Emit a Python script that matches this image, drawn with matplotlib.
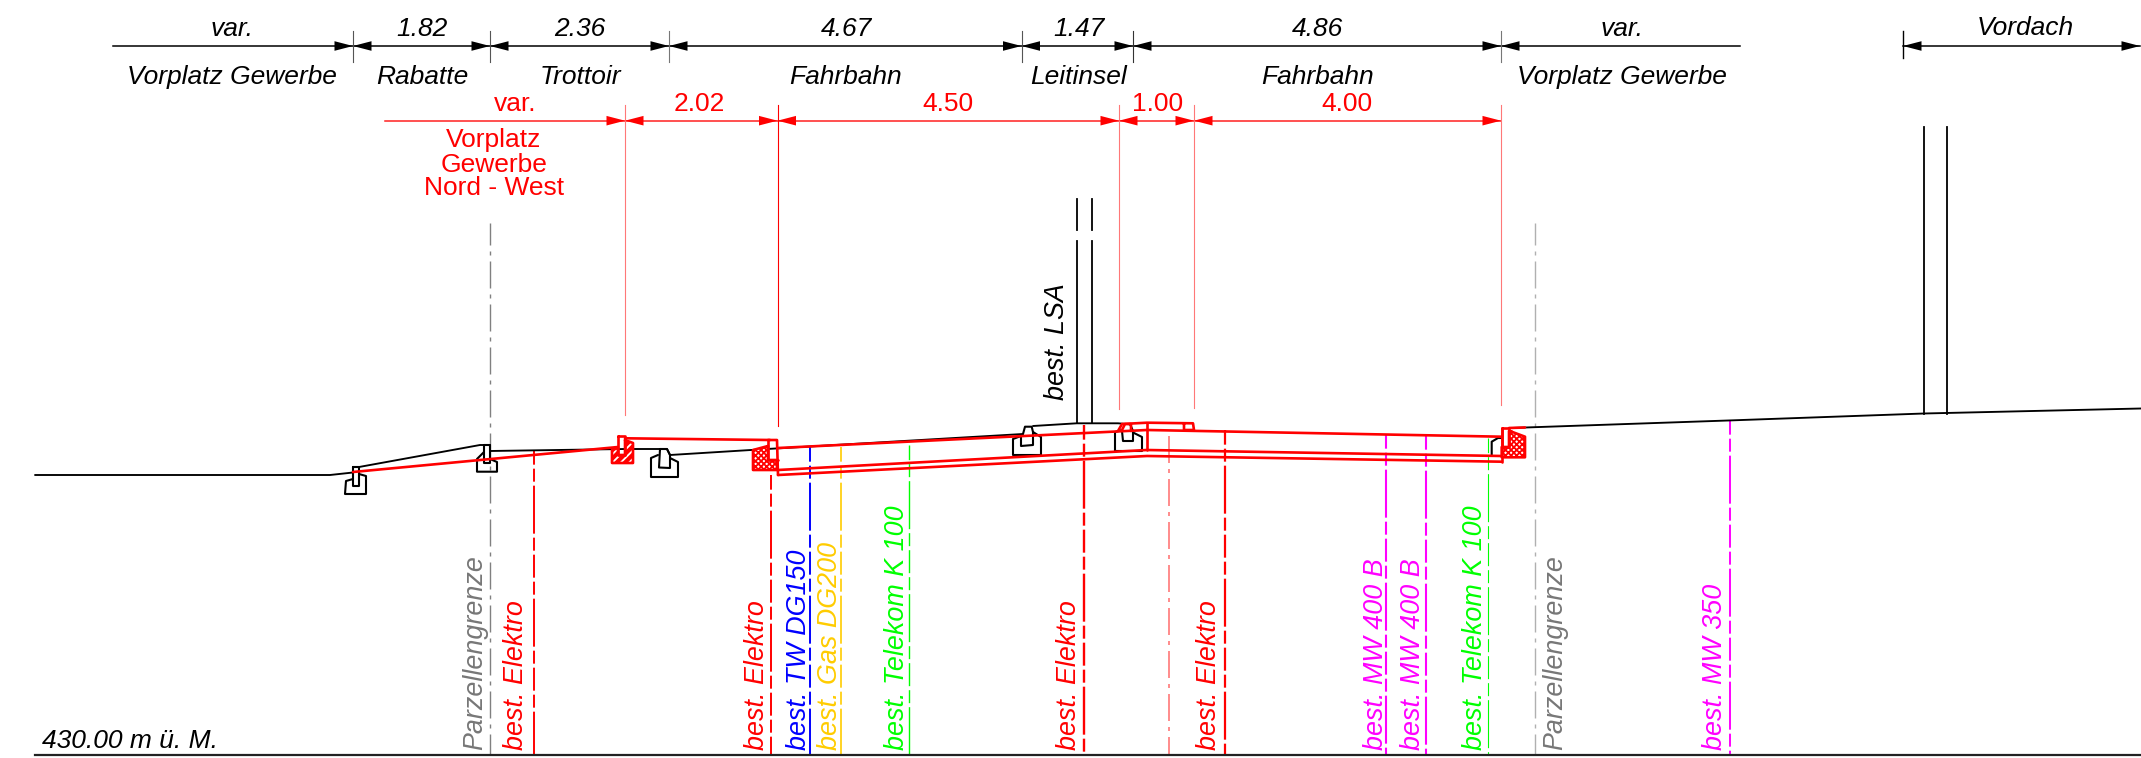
import matplotlib
matplotlib.use("Agg")
import matplotlib.pyplot as plt
from matplotlib.patches import Polygon

plt.rcParams['font.family'] = ['Liberation Sans', 'DejaVu Sans']
plt.rcParams['lines.scale_dashes'] = False
plt.rcParams['hatch.linewidth'] = 1.3

W, H = 2141, 758
RED, LRED, GREY, BLUE, GOLD, GREEN, MAG = '#ff0000', '#ff7878', '#808080', '#0000ff', '#ffcc00', '#00ff00', '#ff00ff'

# dimension chains
top_ticks = [353, 490, 669, 1021.5, 1133, 1501]
top_tick_cols = ['#555555', '#555555', '#777777', '#555555', '#333333', '#777777']
top_line = [113, 1740]
top_values = ['var.', '1.82', '2.36', '4.67', '1.47', '4.86', 'var.']
top_labels = ['Vorplatz Gewerbe', 'Rabatte', 'Trottoir', 'Fahrbahn', 'Leitinsel', 'Fahrbahn', 'Vorplatz Gewerbe']
top_x = [232, 422, 580, 846, 1079, 1317.5, 1622]
vordach_span = [1903, 2140]
vordach_x = 2025

red_ticks = [625, 777.5, 1119, 1194, 1501]
red_tick_ends = [415, 426, 409, 408, 405]
red_tick_cols = [LRED, RED, LRED, LRED, LRED]
red_line = [385, 1501]
red_values = ['var.', '2.02', '4.50', '1.00', '4.00']
red_x = [515, 699, 948, 1158, 1347]
red_note = ['Vorplatz', 'Gewerbe', 'Nord - West']
red_note_y = [140.5, 164.5, 188]

# terrain (black)
ground_a = [(35, 475), (330, 475), (353, 472.5)]
ground_b = [(359, 467), (480, 445), (490, 445)]
ground_c = [(490, 451), (625, 449), (660, 449), (667, 449), (670, 455), (767, 449)]
ground_d = [(767, 449), (1023, 434)]
ground_e = [(1033, 426), (1076.7, 423.3), (1118, 423.3), (1130, 424.3)]
ground_f = [(1511, 428), (1728, 420.5), (1924, 413.5), (2141, 408.5)]
poles = [1076.7, 1091.5]
pole_segments = [(199, 230), (240.5, 423)]
roof_posts = [1924, 1946.6]
roof_span = (127, 413.5)

curbs_black = [
    [(353, 467), (359, 467), (359, 486), (353, 486), (353, 467)],
    [(353, 479), (346, 481), (345, 494), (366, 494), (366, 476), (359, 474)],
    [(484, 445), (490, 445), (490, 463), (484, 463), (484, 445)],
    [(484, 452), (477, 459), (477, 471.7), (497, 471.7), (497, 462), (490, 459)],
    [(660, 449), (667, 449), (670, 455), (670, 468), (659, 467.5), (660, 449)],
    [(658, 455), (651, 458), (651, 477), (678, 477), (678, 462), (670, 458)],
    [(1023, 434), (1025, 426.7), (1031.7, 426.7), (1033, 432), (1033, 445), (1021, 446), (1021, 435)],
    [(1021, 436), (1013, 439), (1013, 455), (1041, 455), (1041, 437), (1033, 432)],
    [(1122, 431), (1123, 441), (1133, 441), (1133, 431), (1130, 424)],
    [(1122, 430), (1115, 432), (1115, 451), (1142, 451), (1142, 437), (1134, 433)],
    [(1491.7, 455), (1491.7, 441.7), (1498, 438), (1502, 438)],
]

# road build-up (red)
ramp = [(353, 472), (618, 447)]
slab = [(625, 438.3), (770, 440)]
road_top = [(778, 448), (1147, 430), (1501.7, 436.7)]
road_low1 = [(778, 470), (1147, 450), (1501.7, 456)]
road_low2 = [(778, 475), (1147, 456), (1501.7, 461.7)]
island = [(1118, 431), (1122, 424), (1147, 422.7), (1193, 423.3), (1194, 430), (1184, 430), (1184, 423.5)]
island_wall = [(1147, 422.7), (1147, 450)]
small_rects = [
    [(618, 436), (625, 436), (625, 455), (618, 455), (618, 436)],
    [(768, 440), (777, 440), (778, 475)],
    [(768, 440), (768, 460), (778, 460)],
    [(1122, 430), (1125, 424), (1131, 424), (1131, 431)],
    [(1501.7, 428), (1509, 428), (1509, 447), (1501.7, 447), (1501.7, 428)],
    [(1501.7, 428), (1501.7, 461.7)],
    [(1509, 428), (1525, 427.5)],
]
block_diag = [(625, 440), (633, 443), (633, 463), (612, 463), (612, 450), (618, 448), (618, 455), (625, 455)]
block_cross_l = [(768, 446), (768, 460), (777, 460), (777, 470), (753, 470), (753, 450)]
block_cross_r = [(1511.7, 431.7), (1525, 436.7), (1525, 457.3), (1501.7, 457.3), (1501.7, 447), (1509, 447), (1509, 431)]

# utilities
base_y = 755
util_x = [534, 770.5, 810.3, 840.6, 909.4, 1084, 1225, 1386, 1426.3, 1488.4, 1730]
util_top = [450, 475, 447, 447, 445, 425, 430, 434, 435, 438, 420]
util_col = [RED, RED, BLUE, GOLD, GREEN, RED, RED, MAG, MAG, GREEN, MAG]
util_lw = [1.4, 1.4, 1.4, 1.2, 1.0, 1.7, 1.6, 1.5, 1.5, 0.8, 1.4]
light_line = (1169, 436)
border_x = [490.3, 1534.5]
border_col = ['#808080', '#b0b0b0']
border_top = 223

labels_rot = ['Parzellengrenze', 'best. Elektro', 'best. Elektro', 'best. TW DG150', 'best. Gas DG200', 'best. Telekom K 100',
              'best. Elektro', 'best. Elektro', 'best. MW 400 B', 'best. MW 400 B', 'best. Telekom K 100', 'Parzellengrenze', 'best. MW 350']
labels_rot_x = [475, 516, 757.5, 799, 830, 896.5, 1068.5, 1209, 1376, 1413, 1474.5, 1555.5, 1715]
labels_rot_col = ['#777777', RED, RED, BLUE, GOLD, GREEN, RED, RED, MAG, MAG, GREEN, '#777777', MAG]
lsa_label = 'best. LSA'
lsa_x = 1057
level_label = '430.00 m ü. M.'

FS = 19
FS_ROT = 19.4
fig = plt.figure(figsize=(W / 100, H / 100), dpi=100)
ax = fig.add_axes([0, 0, 1, 1])
ax.set_xlim(0, W)
ax.set_ylim(H, 0)
ax.axis('off')

PX = 0.72
def pl(points, color='black', lw=1.25, **kw):
    xs, ys = zip(*points)
    ax.plot(xs, ys, color=color, lw=lw, solid_capstyle='round', solid_joinstyle='round', **kw)

def arrow(x, y, direction, color):
    ax.fill([x, x + direction * 18.5, x + direction * 18.5], [y, y - 4.8, y + 4.8], color=color, lw=0, zorder=5)

# top dimension chain
ydim = 46
ax.plot(top_line, [ydim, ydim], color='black', lw=1.1)
for x, c in zip(top_ticks, top_tick_cols):
    ax.plot([x, x], [31, 61.7], color=c, lw=0.8)
for i, x in enumerate(top_ticks):
    arrow(x, ydim, -1, 'black')
    arrow(x, ydim, 1, 'black')
for t, l, x in zip(top_values, top_labels, top_x):
    ax.text(x, 29, t, fontsize=FS, style='italic', ha='center', va='center')
    ax.text(x, 77, l, fontsize=FS, style='italic', ha='center', va='center')
ax.plot(vordach_span, [ydim, ydim], color='black', lw=1.1)
ax.plot([vordach_span[0]] * 2, [31, 57.7], color='black', lw=1)
arrow(vordach_span[0], ydim, 1, 'black')
arrow(vordach_span[1], ydim, -1, 'black')
ax.text(vordach_x, 28, 'Vordach', fontsize=FS, style='italic', ha='center', va='center')

# red dimension chain
yred = 120.7
ax.plot(red_line, [yred, yred], color='#ff2020', lw=1.1)
for x, e, c in zip(red_ticks, red_tick_ends, red_tick_cols):
    ax.plot([x, x], [105, e], color=c, lw=0.8)
for i, x in enumerate(red_ticks):
    arrow(x, yred, -1, RED)
    if i < len(red_ticks) - 1:
        arrow(x, yred, 1, RED)
for t, x in zip(red_values, red_x):
    ax.text(x, 104, t, fontsize=FS, color=RED, ha='center', va='center')
for t, y in zip(red_note, red_note_y):
    ax.text(493.6, y, t, fontsize=FS, color=RED, ha='center', va='center')

# utilities and borders
pattern = (6, (23 * PX, 4 * PX, 13 * PX, 4 * PX, 48 * PX, 4 * PX, 13 * PX, 4 * PX))
for x, t, c, lw in zip(util_x, util_top, util_col, util_lw):
    ax.plot([x, x], [t, base_y], color=c, lw=lw, linestyle=pattern, zorder=1)
ax.plot([light_line[0]] * 2, [light_line[1], base_y], color=LRED, lw=1.2,
        linestyle=(0, (27 * PX, 6 * PX, 4 * PX, 6 * PX)), zorder=1)
for x, c in zip(border_x, border_col):
    ax.plot([x, x], [border_top, base_y], color=c, lw=1.0,
            linestyle=(5 * PX, (27 * PX, 6 * PX, 4 * PX, 6 * PX)), zorder=1)

# terrain
for seg in (ground_a, ground_b, ground_c, ground_d, ground_e, ground_f):
    pl(seg, lw=1.35, zorder=2)
for c in curbs_black:
    pl(c, lw=1.5, zorder=2)
for x in poles:
    for a, b in pole_segments:
        ax.plot([x, x], [a, b], color='black', lw=1.3, zorder=2)
for x in roof_posts:
    ax.plot([x, x], roof_span, color='black', lw=1.3, zorder=2)

# road build-up
ax.add_patch(Polygon(block_diag, facecolor=RED, edgecolor='white', hatch='////', lw=0, zorder=3))
ax.add_patch(Polygon(block_cross_l, facecolor='white', edgecolor=RED, hatch='xxxxxx', lw=0, zorder=3))
ax.add_patch(Polygon(block_cross_r, facecolor='white', edgecolor=RED, hatch='xxxxxx', lw=0, zorder=3))
for b in (block_diag, block_cross_l, block_cross_r):
    pl(list(b) + [b[0]], color=RED, lw=1.9, zorder=4)
for seg in (ramp, slab, road_top, road_low1, road_low2, island, island_wall):
    pl(seg, color=RED, lw=1.9, zorder=4)
for seg in small_rects:
    pl(seg, color=RED, lw=1.9, zorder=4)

# rotated labels
for t, x, c in zip(labels_rot, labels_rot_x, labels_rot_col):
    ax.text(x, 750, t, fontsize=FS_ROT, style='italic', color=c, rotation=90, ha='center', va='bottom', zorder=6)
ax.text(lsa_x, 400, lsa_label, fontsize=FS_ROT, style='italic', color='black', rotation=90, ha='center', va='bottom', zorder=6)

# base line
ax.plot([35, W], [base_y, base_y], color='#222222', lw=1.6, zorder=5)
ax.text(41.5, 741, level_label, fontsize=FS, style='italic', ha='left', va='center')

fig.savefig('out.png', dpi=100)
